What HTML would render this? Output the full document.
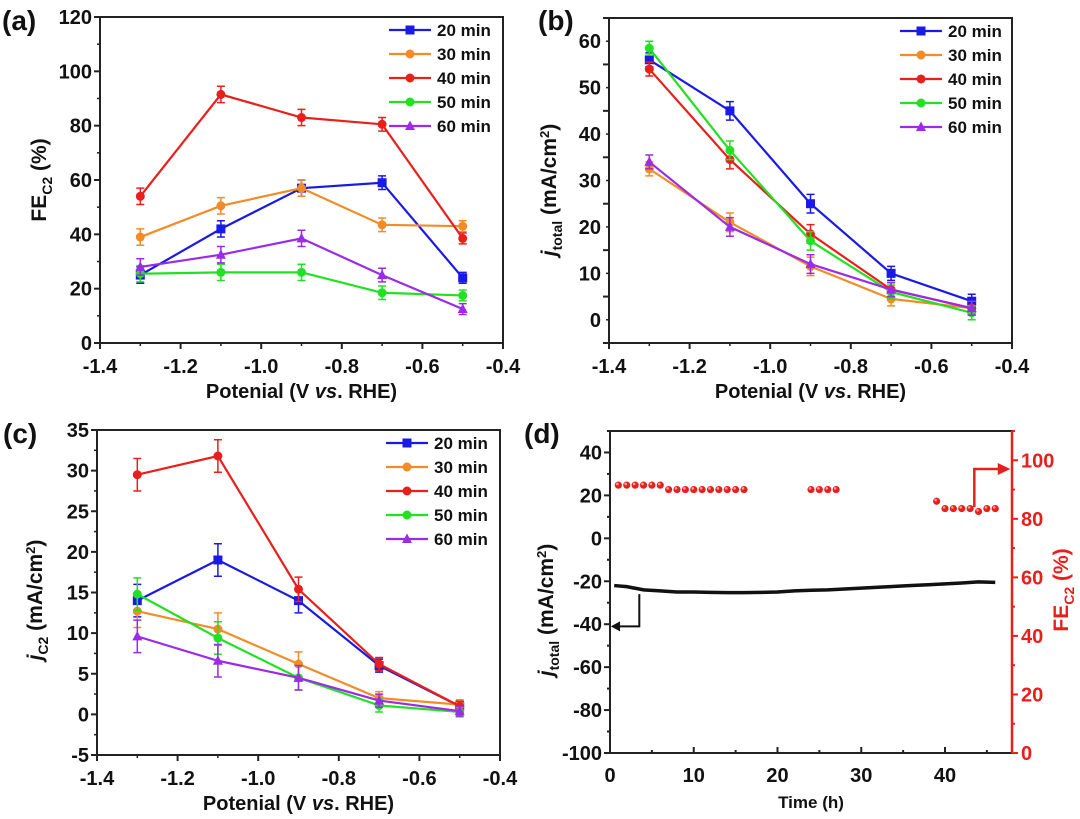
<!DOCTYPE html>
<html><head><meta charset="utf-8">
<style>
html,body{margin:0;padding:0;background:#fff;}
svg{display:block;font-family:"Liberation Sans",Arial,sans-serif;font-weight:bold;}
</style></head>
<body>
<svg id="fig" width="1080" height="819" viewBox="0 0 1080 819" xmlns="http://www.w3.org/2000/svg"></svg>
<script>
// ---------- data ----------
const potentials = [-1.3, -1.1, -0.9, -0.7, -0.5];
const seriesNames = ["20 min","30 min","40 min","50 min","60 min"];
// panel a: FE C2 (%)
const feA20 = [25, 42, 57, 59, 24];
const feA30 = [39, 50.5, 57, 43.5, 43];
const feA40 = [54, 91.5, 83, 80.5, 38.5];
const feA50 = [25.5, 26, 26, 18.5, 17.5];
const feA60 = [28, 32.5, 38.5, 25, 12.5];
const errA = [3, 3, 3, 2.5, 2];
// panel b: j total
const jB20 = [56, 45, 25, 10, 4];
const jB30 = [32.5, 21, 11.5, 4.5, 2.5];
const jB40 = [54, 34.5, 18.5, 6.5, 2.5];
const jB50 = [58.5, 36.5, 17, 6, 1.5];
const jB60 = [34, 20, 12, 6.5, 2.5];
const errB = [1.5, 2, 2, 1.5, 1.5];
// panel c: j C2
const jC20 = [14, 19, 14, 6, 1];
const jC30 = [12.7, 10.5, 6.2, 2, 1.2];
const jC40 = [29.5, 31.8, 15.4, 6.2, 1];
const jC50 = [14.8, 9.4, 4.5, 1.1, 0.3];
const jC60 = [9.6, 6.6, 4.5, 1.7, 0.4];
const errC = [2, 2, 1.5, 0.8, 0.6];
// panel d
const timeHours = [0.5,2,4,6,8,10,12,14,16,18,20,22,24,26,28,30,32,34,36,38,40,42,44,46];
const currentVals = [-22,-22.5,-24,-24.5,-25,-25,-25.2,-25.3,-25.3,-25.2,-25,-24.5,-24.2,-24,-23.6,-23.2,-22.8,-22.4,-22,-21.6,-21.2,-20.8,-20.3,-20.5];
const feTimes = [1,2,3,4,5,6,7,8,9,10,11,12,13,14,15,16,24,25,26,27,39,40,41,42,43,44,45,46];
const feVals = [91.5,91.5,91.5,91.5,91.5,91.5,90,90,90,90,90,90,90,90,90,90,90,90,90,90,86,83.5,83.5,83.5,83.5,82.5,83.5,83.5];
const xTicksPot = ["-1.4","-1.2","-1.0","-0.8","-0.6","-0.4"];

const colors = ["#1a1ae6","#f28c28","#e8201c","#22e022","#9b2be6"];
const markers = ["square","circle","circle","circle","triangle"];
const NS = "http://www.w3.org/2000/svg";
const svg = document.getElementById('fig');
function mk(tag, attrs, parent, text){
  const e = document.createElementNS(NS, tag);
  for (const k in attrs) e.setAttribute(k, attrs[k]);
  if (text !== undefined) e.textContent = text;
  (parent||svg).appendChild(e); return e;
}
function axes(cfg){
  const g = mk('g', {});
  
  
  const sx = v => cfg.x0 + (v - cfg.xmin) / (cfg.xmax - cfg.xmin) * (cfg.x1 - cfg.x0);
  const sy = v => cfg.y0 - (v - cfg.ymin) / (cfg.ymax - cfg.ymin) * (cfg.y0 - cfg.y1);
  return {g, sx, sy};
}
function frame(g, x0, y0, x1, y1){
  const r = mk('rect', {x:x0, y:y1, width:x1-x0, height:y0-y1, fill:'none', stroke:'#222', 'stroke-width':2}, g);
  
  
}
function marker(g, type, x, y, c){
  let m;
  if (type === 'square') m = mk('rect', {x:x-4.5, y:y-4.5, width:9, height:9, fill:c}, g);
  else if (type === 'triangle') m = mk('polygon', {points:`${x},${y-5.5} ${x-5},${y+4} ${x+5},${y+4}`, fill:c}, g);
  else m = mk('circle', {cx:x, cy:y, r:4.5, fill:c}, g);
  return m;
}
function potPanel(p){
  const A = axes(p); const g = A.g;
  p.series.forEach((vals, si) => {
    const c = colors[si];
    const sg = mk('g', {}, g);
    
    
    const pts = vals.map((v,i)=>A.sx(potentials[i]) + ',' + A.sy(v)).join(' ');
    mk('polyline', {points:pts, fill:'none', stroke:c, 'stroke-width':2.2}, sg);
    vals.forEach((v,i)=>{
      const x = A.sx(potentials[i]), e = p.err[i];
      const ya = A.sy(v+e), yb = A.sy(v-e);
      mk('path', {d:`M${x},${ya}V${yb}M${x-4},${ya}H${x+4}M${x-4},${yb}H${x+4}`, stroke:c, 'stroke-width':1.5, fill:'none'}, sg);
      const m = marker(sg, markers[si], x, A.sy(v), c);
      
      
    });
  });
  frame(g, p.x0, p.y0, p.x1, p.y1);
  xTicksPot.forEach((t,i)=>{
    const v = -1.4 + i*0.2, x = A.sx(v);
    mk('line', {x1:x, y1:p.y0, x2:x, y2:p.y0+6, stroke:'#222', 'stroke-width':2}, g);
    if (i<5) mk('line', {x1:A.sx(v+0.1), y1:p.y0, x2:A.sx(v+0.1), y2:p.y0+3, stroke:'#222', 'stroke-width':1.5}, g);
    const tl = mk('text', {x:x, y:p.y0+30, 'text-anchor':'middle', 'font-size':20, fill:'#111'}, g, t);
    
    
  });
  for (let v = p.ymin; v <= p.ymax + 1e-9; v += p.ystep/2){
    const y = A.sy(v);
    const major = Math.abs(((v - p.ymin) / p.ystep) - Math.round((v - p.ymin)/p.ystep)) < 1e-6;
    mk('line', {x1:p.x0, y1:y, x2:p.x0-(major?6:3), y2:y, stroke:'#222', 'stroke-width':major?2:1.5}, g);
  }
  p.yTicks.forEach(v=>{
    const tl = mk('text', {x:p.x0-8, y:A.sy(v)+7, 'text-anchor':'end', 'font-size':20, fill:'#111'}, g, String(v));
    
    
  });
  const lg = mk('g', {}, g);
  
  
  seriesNames.forEach((n,i)=>{
    const y = p.legY + i*24;
    const eg = mk('g', {}, lg);
    
    
    mk('line', {x1:p.legX, y1:y, x2:p.legX+42, y2:y, stroke:colors[i], 'stroke-width':2.2}, eg);
    marker(eg, markers[i], p.legX+21, y, colors[i]);
    mk('text', {x:p.legX+48, y:y+6, 'font-size':17, fill:'#111'}, eg, n);
  });
  const xt = mk('text', {x:(p.x0+p.x1)/2, y:p.y0+55, 'text-anchor':'middle', 'font-size':20, fill:'#111'}, g);
  
  
  mk('tspan', {}, xt, 'Potenial (V ');
  mk('tspan', {'font-style':'italic'}, xt, 'vs');
  mk('tspan', {}, xt, '. RHE)');
  return A;
}
function yTitle(x, y, parts, color, name){
  const t = mk('text', {x:0, y:0, transform:`translate(${x},${y}) rotate(-90)`, 'text-anchor':'middle', 'font-size':21, fill:color||'#111'});
  
  
  parts.forEach(pt=>mk('tspan', pt.a||{}, t, pt.t));
}
function panelLabel(x,y,t){
  const e = mk('text', {x, y, 'font-size':28, fill:'#111'}, svg, t);
  
  
}

potPanel({name:'panel-a-fe-c2', x0:100, x1:503, y0:343, y1:17, xmin:-1.4, xmax:-0.4, ymin:0, ymax:120, ystep:20,
  yTicks:[0,20,40,60,80,100,120], series:[feA20,feA30,feA40,feA50,feA60], err:errA, legX:389, legY:30});
potPanel({name:'panel-b-j-total', x0:609, x1:1012, y0:343, y1:18, xmin:-1.4, xmax:-0.4, ymin:-5, ymax:65, ystep:10,
  yTicks:[0,10,20,30,40,50,60], series:[jB20,jB30,jB40,jB50,jB60], err:errB, legX:900, legY:31});
potPanel({name:'panel-c-j-c2', x0:97, x1:500, y0:755, y1:430, xmin:-1.4, xmax:-0.4, ymin:-5, ymax:35, ystep:5,
  yTicks:[-5,0,5,10,15,20,25,30,35], series:[jC20,jC30,jC40,jC50,jC60], err:errC, legX:386, legY:443});

(function(){
  const p = {x0:610, x1:1012, y0:753, y1:431};
  const sx = v => p.x0 + v/48*(p.x1-p.x0);
  const syL = v => p.y0 - (v+100)/150*(p.y0-p.y1);
  const syR = v => p.y0 - v/110*(p.y0-p.y1);
  const g = mk('g', {});
  
  
  const cl = mk('polyline', {points:timeHours.map((t,i)=>sx(t)+','+syL(currentVals[i])).join(' '), fill:'none', stroke:'#111', 'stroke-width':3.5}, g);
  
  
  feTimes.forEach((t,i)=>{
    const c = mk('circle', {cx:sx(t), cy:syR(feVals[i]), r:3.6, fill:'#e8201c'}, g);
    
    
    mk('circle', {cx:sx(t)-1, cy:syR(feVals[i])-1.2, r:1.3, fill:'#f7a0a0'}, g);
  });
  mk('rect', {x:p.x0, y:p.y1, width:p.x1-p.x0, height:p.y0-p.y1, fill:'none', stroke:'#222', 'stroke-width':2}, g);
  mk('line', {x1:p.x1, y1:p.y1, x2:p.x1, y2:p.y0, stroke:'#e8201c', 'stroke-width':2.5}, g);
  for (let v=0; v<=45; v+=5){
    const x = sx(v), maj = v%10===0;
    mk('line', {x1:x, y1:p.y0, x2:x, y2:p.y0-(maj?6:3), stroke:'#222', 'stroke-width':2}, g);
    if (maj){ const t = mk('text', {x, y:p.y0+29, 'text-anchor':'middle', 'font-size':20, fill:'#111'}, g, String(v));
        }
  }
  for (let v=-100; v<=50; v+=10){
    const y = syL(v), maj = v%20===0;
    mk('line', {x1:p.x0, y1:y, x2:p.x0-(maj?6:3), y2:y, stroke:'#222', 'stroke-width':2}, g);
    if (maj && v<=40){ const t = mk('text', {x:p.x0-8, y:y+7, 'text-anchor':'end', 'font-size':20, fill:'#111'}, g, String(v));
        }
  }
  for (let v=0; v<=110; v+=10){
    const y = syR(v), maj = v%20===0;
    mk('line', {x1:p.x1, y1:y, x2:p.x1+(maj?6:3), y2:y, stroke:'#e8201c', 'stroke-width':2}, g);
    if (maj && v<=100){ const t = mk('text', {x:p.x1+9, y:y+7, 'font-size':20, fill:'#e8201c'}, g, String(v));
        }
  }
  mk('path', {d:`M${sx(3.5)},${syL(-26)}V${syL(-41)}H${sx(0.3)}`, stroke:'#111', 'stroke-width':2, fill:'none'}, g);
  mk('polygon', {points:`${sx(0.1)},${syL(-41)} ${sx(1.2)},${syL(-41)-5} ${sx(1.2)},${syL(-41)+5}`, fill:'#111'}, g);
  mk('path', {d:`M${sx(43.5)},${syR(84)}V${syR(97)}H${sx(46.5)}`, stroke:'#e8201c', 'stroke-width':2.5, fill:'none'}, g);
  mk('polygon', {points:`${sx(47.8)},${syR(97)} ${sx(46.3)},${syR(97)-6} ${sx(46.3)},${syR(97)+6}`, fill:'#e8201c'}, g);
  const xt = mk('text', {x:(p.x0+p.x1)/2, y:p.y0+55, 'text-anchor':'middle', 'font-size':17, fill:'#111'}, g, 'Time (h)');
   
})();

yTitle(46, 180, [{t:'FE'},{t:'C2',a:{'font-size':14,dy:6}},{t:' (%)',a:{dy:-6}}], '#111', 'y-axis-title-a');
yTitle(556, 190, [{t:'j',a:{'font-style':'italic'}},{t:'total',a:{'font-size':14,dy:6}},{t:' (mA/cm',a:{dy:-6}},{t:'2',a:{'font-size':13,dy:-7}},{t:')',a:{dy:7}}], '#111', 'y-axis-title-b');
yTitle(42, 600, [{t:'j',a:{'font-style':'italic'}},{t:'C2',a:{'font-size':14,dy:6}},{t:' (mA/cm',a:{dy:-6}},{t:'2',a:{'font-size':13,dy:-7}},{t:')',a:{dy:7}}], '#111', 'y-axis-title-c');
yTitle(553, 610, [{t:'j',a:{'font-style':'italic'}},{t:'total',a:{'font-size':14,dy:6}},{t:' (mA/cm',a:{dy:-6}},{t:'2',a:{'font-size':13,dy:-7}},{t:')',a:{dy:7}}], '#111', 'y-axis-title-d-left');
yTitle(1068, 590, [{t:'FE'},{t:'C2',a:{'font-size':14,dy:6}},{t:' (%)',a:{dy:-6}}], '#e8201c', 'y-axis-title-d-right');

panelLabel(2, 30, '(a)');
panelLabel(538, 30, '(b)');
panelLabel(3, 443, '(c)');
panelLabel(524, 443, '(d)');
</script>
</body></html>
